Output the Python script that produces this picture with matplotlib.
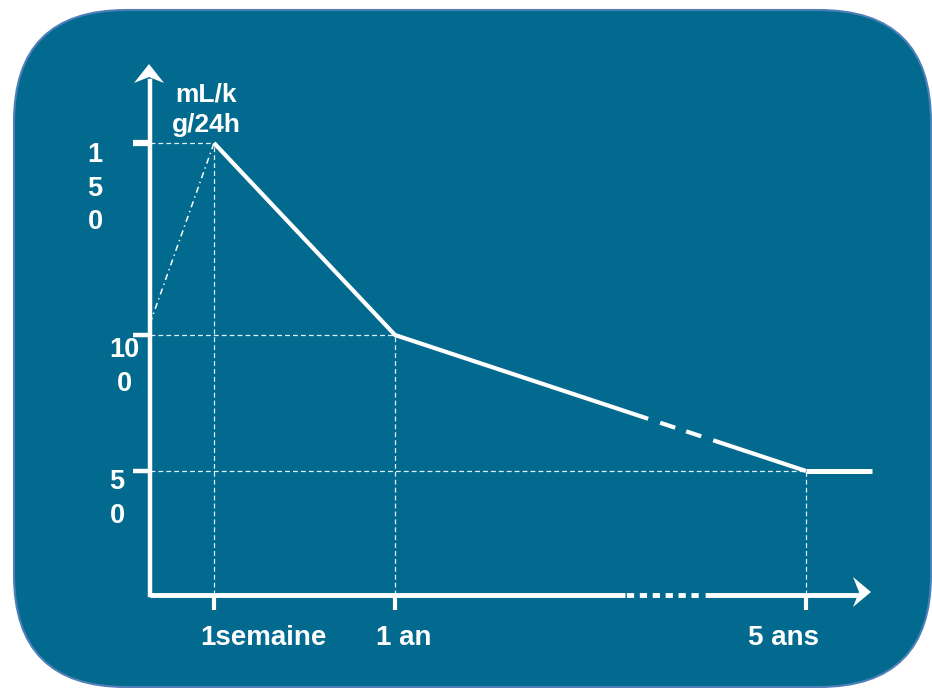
import numpy as np
import matplotlib
matplotlib.use("Agg")
import matplotlib.pyplot as plt
from matplotlib.patches import FancyBboxPatch, Polygon

# -----------------------------
# data
# -----------------------------
age_weeks = [1, 52, 260]                 # 1 semaine, 1 an, 5 ans
age_labels = ["1semaine", "1 an", "5 ans"]
clearance = [150, 100, 50]               # mL/kg/24h
birth_value = 103
plateau_end = 300
y_ticks = [150, 100, 50]
y_tick_labels = ["1\n5\n0", "10\n0", "5\n0"]
unit_label = "mL/k\ng/24h"

# -----------------------------
# style
# -----------------------------
TEAL = "#016A8E"
BORDER = "#4F7FB8"
WHITE = "white"
plt.rcParams["font.family"] = ["Liberation Sans", "DejaVu Sans"]
plt.rcParams["font.weight"] = "bold"
plt.rcParams["lines.scale_dashes"] = False

# piecewise scales (axis is not proportional in the drawing)
x_anchor = [0, 1, 52, 260, 300]
x_px = [0, 64, 245, 656, 722]
y_anchor = [0, 50, 100, 150, 170]
y_px = [0, 124, 260, 452, 530]


def piecewise(src, dst):
    src = np.asarray(src, float)
    dst = np.asarray(dst, float)

    def f(v):
        v = np.asarray(v, dtype=float)
        out = np.interp(v, src, dst)
        lo_slope = (dst[1] - dst[0]) / (src[1] - src[0])
        hi_slope = (dst[-1] - dst[-2]) / (src[-1] - src[-2])
        out = np.where(v < src[0], dst[0] + (v - src[0]) * lo_slope, out)
        out = np.where(v > src[-1], dst[-1] + (v - src[-1]) * hi_slope, out)
        return out
    return f


fig = plt.figure(figsize=(9.32, 6.88), dpi=100)

#----------------------------------------
# background rounded box (pixel coords)
#----------------------------------------
bg = fig.add_axes([0, 0, 1, 1])
bg.set_xlim(0, 932)
bg.set_ylim(688, 0)
bg.axis("off")
bg.add_patch(FancyBboxPatch((14, 10), 917, 677,
                            boxstyle="round,pad=0,rounding_size=112",
                            facecolor=TEAL, edgecolor=BORDER, linewidth=1.5))
# arrow heads
bg.add_patch(Polygon([(149, 64), (164, 83), (149, 77), (134, 83)],
                     closed=True, facecolor=WHITE, edgecolor="none", zorder=5))
bg.add_patch(Polygon([(871, 592), (853, 577), (859, 592), (853, 607)],
                     closed=True, facecolor=WHITE, edgecolor="none", zorder=5))

#----------------------------------------
# main axes
#----------------------------------------
ax = fig.add_axes([150 / 932, 93 / 688, 722 / 932, 530 / 688])
ax.set_facecolor("none")
ax.set_xscale("function", functions=(piecewise(x_anchor, x_px), piecewise(x_px, x_anchor)))
ax.set_yscale("function", functions=(piecewise(y_anchor, y_px), piecewise(y_px, y_anchor)))
ax.set_xlim(0, plateau_end)
ax.set_ylim(0, 170)
for s in ax.spines.values():
    s.set_visible(False)

# axis lines
ax.plot([0, 0], [0, 0.97], transform=ax.transAxes, color=WHITE, lw=3.2,
        solid_capstyle="projecting", clip_on=False, zorder=4)
ax.plot([0, 0.98], [0, 0], transform=ax.transAxes, color=WHITE, lw=3.5,
        dashes=[342, 1.0, 5.2, 4.1, 5.2, 4.1, 5.2, 4.1, 5.2, 4.1, 5.2, 4.1, 5.2, 5, 400, 1],
        dash_capstyle="butt", clip_on=False, zorder=4)

# ticks
ax.set_xticks(age_weeks)
ax.set_xticklabels([])
ax.set_yticks(y_ticks)
ax.set_yticklabels([])
ax.minorticks_off()
ax.tick_params(axis="x", direction="out", length=11, width=3, color=WHITE)
ax.tick_params(axis="y", direction="out", length=12, width=3.2, color=WHITE)
ax.yaxis.get_major_ticks()[0].tick1line.set_markeredgewidth(4.5)

# guide lines
for xv, yv in zip(age_weeks, clearance):
    ax.plot([0, xv], [yv, yv], color=WHITE, lw=0.9, dashes=(3.5, 2.2), alpha=0.9, zorder=2)
    ax.plot([xv, xv], [0, yv], color=WHITE, lw=0.9, dashes=(3.5, 2.2), alpha=0.9, zorder=2)

# birth to 1 week
ax.plot([0, age_weeks[0]], [birth_value, clearance[0]], color=WHITE, lw=1.1,
        dashes=(4.5, 2.8, 1.0, 2.8), zorder=3)

# main curve
ax.plot(age_weeks, clearance, color=WHITE, lw=3.0,
        dashes=[382, 9.1, 11.4, 8.3, 11.4, 9.1, 500, 1],
        dash_capstyle="butt", solid_joinstyle="miter", clip_on=False, zorder=3)
ax.plot([age_weeks[-1], plateau_end], [clearance[-1], clearance[-1]], color=WHITE,
        lw=3.6, solid_capstyle="butt", clip_on=False, zorder=3)

# labels
x_offsets = [49, 9, -23]
for xv, lab, dx in zip(age_weeks, age_labels, x_offsets):
    ax.annotate(lab, xy=(xv, 0), xytext=(dx, -43), textcoords="offset pixels",
                ha="center", va="center", color=WHITE, fontsize=20, fontweight="bold")

y_offsets = [(-55, 1), (-26, -2), (-33, 2)]
for yv, lab, (dx, dy) in zip(y_ticks, y_tick_labels, y_offsets):
    ax.annotate(lab, xy=(0, yv), xytext=(dx, dy), textcoords="offset pixels",
                ha="center", va="top", multialignment="center", linespacing=1.38,
                color=WHITE, fontsize=19.5, fontweight="bold")

ax.annotate(unit_label, xy=(age_weeks[0], clearance[0]), xytext=(-8, 6),
            textcoords="offset pixels", ha="center", va="bottom",
            multialignment="center", linespacing=1.32,
            color=WHITE, fontsize=19, fontweight="bold")

fig.savefig("out.png", dpi=100, facecolor="white")
